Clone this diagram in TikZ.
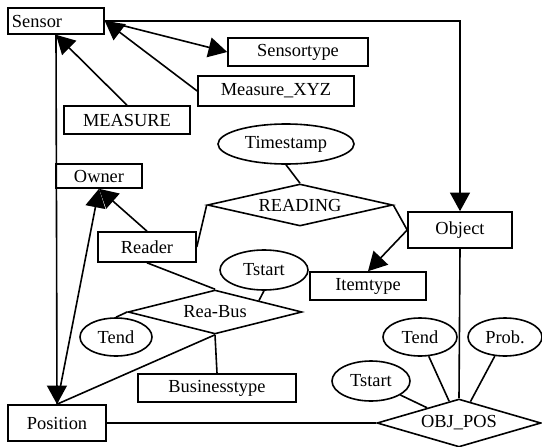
\documentclass[tikz,border=0pt]{standalone}
\usepackage{fontspec}
\setmainfont{Liberation Serif}
\usepackage{tikz}
\usetikzlibrary{arrows.meta,positioning}
\usetikzlibrary{shapes.geometric}

\begin{document}
\begin{tikzpicture}
		[x=0.75pt,y=-0.75pt,line width=1.2pt,font=\fontsize{13.8}{16}\selectfont,
		ent node/.style={draw,rectangle,inner sep=0pt},
		att node/.style={draw,ellipse,inner sep=0pt,minimum width=55.5pt,minimum height=28.5pt},
		rel node/.style={draw,diamond,aspect=4,inner sep=0pt},
		arr/.style={-{Triangle[length=14pt,width=15pt]}}]
		\useasboundingbox (0,0) rectangle (542,446);
		
		\node[ent node,minimum height=19.5pt,text width=66pt,inner xsep=3pt,align=left] (sensor) at (56,21) {Sensor};
		\node[ent node,minimum width=105pt,minimum height=21pt] (stype) at (298,52) {Sensortype};
		\node[ent node,minimum width=117pt,minimum height=22.5pt] (mxyz) at (276,91) {Measure\_XYZ};
		\node[ent node,minimum width=94.5pt,minimum height=21pt] (measure) at (127,120) {MEASURE};
		\node[ent node,minimum width=64.5pt,minimum height=18pt] (owner) at (99,176) {Owner};
		\node[att node,minimum width=102pt,minimum height=30pt] (tstamp) at (286,144) {Timestamp};
		\node[rel node,minimum width=138.75pt,minimum height=31.5pt] (reading) at (300,205) {READING};
		\node[ent node,minimum width=78pt,minimum height=27pt] (object) at (460,230) {Object};
		\node[ent node,minimum width=73.5pt,minimum height=22.5pt] (reader) at (147,247) {Reader};
		\node[att node,minimum width=66pt,minimum height=30pt] (tstart1) at (264,270) {Tstart};
		\node[ent node,minimum width=87pt,minimum height=21pt] (itype) at (368,286) {Itemtype};
		\node[rel node,minimum width=130.5pt,minimum height=33pt] (reabus) at (215,312) {Rea-Bus};
		\node[att node,minimum width=54pt] (tend1) at (116,337) {Tend};
		\node[ent node,minimum width=118.5pt,minimum height=21pt] (btype) at (217,388) {Businesstype};
		\node[ent node,minimum width=73.5pt,minimum height=27pt] (position) at (57,423) {Position};
		\node[att node] (tend2) at (420,337) {Tend};
		\node[att node] (prob) at (505,337) {Prob.};
		\node[att node,minimum width=58.5pt,minimum height=30pt] (tstart2) at (371,381) {Tstart};
		\node[rel node,minimum width=123pt,minimum height=36pt] (objpos) at (459,423) {OBJ\_POS};
		
		\draw[arr] (sensor.east) -| (object.north);
		\draw[arr] (sensor.east) to (stype.west);
		\draw[arr] (mxyz.west) to (sensor.east);
		\draw[arr] (measure.north) to (sensor.south);
		\draw[arr] (sensor.south) to (position.north);
		\draw[arr] (position.north) to (owner.south);
		\draw[arr] (reader.north) to (owner.south);
		
		\draw[] (reader.east) to (reading.west);
		\draw[] (reading.north) to (tstamp.south);
		\draw[] (reading.east) to (object.west);
		\draw[arr] (object.west) to (itype.north);
		
		\draw[] (reader.south) to (reabus.north);
		\draw[] (tstart1.south) to (reabus.north east);
		\draw[] (tend1.north) to (reabus.west);
		\draw[] (reabus.south) to (btype.north);
		\draw[] (position.north) to (reabus.south);
		
		\draw[] (object.south) to (objpos.north);
		\draw[] (tend2) to (objpos);
		\draw[] (prob) to (objpos);
		\draw[] (tstart2) to (objpos);
		\draw[] (position.east) to (objpos.west);
		\end{tikzpicture}
\end{document}
